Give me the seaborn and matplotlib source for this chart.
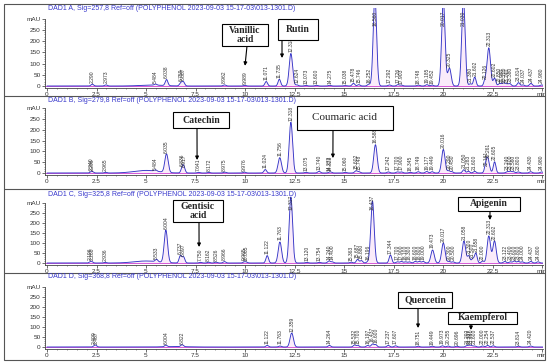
import numpy as np
import matplotlib
matplotlib.use('Agg')
import matplotlib.pyplot as plt
import seaborn as sns
from matplotlib.patches import Rectangle
from matplotlib.lines import Line2D

sns.set_style('white')
plt.rcParams['font.family'] = ['Liberation Sans', 'DejaVu Sans']

# ---------------- data ----------------
titles = [
    "DAD1 A, Sig=257,8 Ref=off (POLYPHENOL 2023-09-03 15-17-03\\013-1301.D)",
    "DAD1 B, Sig=279,8 Ref=off (POLYPHENOL 2023-09-03 15-17-03\\013-1301.D)",
    "DAD1 C, Sig=325,8 Ref=off (POLYPHENOL 2023-09-03 15-17-03\\013-1301.D)",
    "DAD1 D, Sig=368,8 Ref=off (POLYPHENOL 2023-09-03 15-17-03\\013-1301.D)",
]

rt_A = [2.290, 2.973, 5.484, 6.038, 6.759, 6.887, 8.962, 9.989, 11.071, 11.735,
        12.318, 12.624, 13.073, 13.600, 14.275, 15.038, 15.478, 15.746, 16.252,
        16.560, 17.292, 17.726, 17.903, 18.748, 19.185, 19.452, 20.017, 20.325,
        21.030, 21.380, 21.602, 22.126, 22.313, 22.602, 22.850, 22.980, 23.100,
        23.240, 23.380, 23.814, 24.037, 24.437, 24.980]
h_A = [8, 5, 5, 27, 14, 18, 5, 3, 20, 30,
       145, 5, 3, 3, 3, 2, 12, 6, 8,
       400, 5, 6, 4, 4, 6, 4, 380, 80,
       390, 10, 40, 25, 170, 35, 10, 8, 12,
       8, 10, 15, 5, 12, 5]

rt_B = [2.240, 2.296, 2.965, 5.484, 6.035, 6.836, 6.917, 7.641, 8.172, 8.975,
        9.976, 11.024, 11.756, 12.318, 13.075, 13.740, 14.272, 14.323, 15.060,
        15.602, 15.748, 16.588, 17.242, 17.700, 17.900, 18.345, 18.749, 19.177,
        19.449, 20.016, 20.290, 20.450, 21.050, 21.283, 21.600, 22.161, 22.261,
        22.605, 23.240, 23.400, 23.560, 23.800, 24.430, 24.980]
h_B = [5, 4, 3, 6, 86, 25, 22, 3, 3, 4,
       4, 16, 71, 235, 3, 8, 3, 3, 3,
       10, 6, 131, 5, 5, 5, 3, 6, 7,
       6, 109, 10, 6, 15, 8, 8, 25, 64,
       52, 6, 8, 6, 5, 6, 5]

rt_C = [2.196, 2.260, 2.936, 5.533, 6.004, 6.737, 6.897, 7.750, 8.162, 8.526,
        8.966, 9.965, 10.065, 11.122, 11.763, 12.317, 13.120, 13.754, 14.240,
        14.400, 15.363, 15.687, 15.880, 16.196, 16.437, 17.344, 17.700, 17.900,
        18.100, 18.300, 18.600, 18.800, 19.000, 19.473, 20.017, 20.300, 20.500,
        21.058, 21.300, 21.500, 21.658, 22.000, 22.313, 22.602, 23.122, 23.400,
        23.600, 23.800, 24.000, 24.437, 24.800]
h_C = [5, 5, 3, 12, 162, 37, 30, 3, 4, 4,
       7, 5, 4, 37, 105, 330, 3, 3, 10,
       6, 4, 18, 12, 5, 310, 40, 6, 8,
       6, 6, 8, 8, 8, 65, 100, 8, 6,
       110, 35, 20, 50, 10, 135, 110, 8, 6,
       10, 8, 6, 8, 6]

rt_D = [2.409, 2.467, 6.004, 6.822, 11.122, 11.763, 12.359, 14.264, 15.532,
        15.700, 16.197, 16.437, 16.600, 17.237, 17.607, 18.751, 19.449, 19.973,
        20.255, 20.696, 21.202, 21.327, 21.440, 21.600, 22.000, 22.254, 22.537,
        23.814, 24.420]
h_D = [6, 5, 8, 10, 8, 5, 70, 8, 10,
       8, 8, 15, 12, 8, 6, 4, 4, 6,
       5, 4, 6, 7, 6, 5, 5, 8, 6,
       4, 5]

# broad baseline humps: (centre, height)
hump_A = [(5.3, 4)]
hump_B = [(5.0, 12)]
hump_C = [(5.0, 10)]
hump_D = [(6.5, 2)]

# compound annotations: name, retention time of arrow tip, mAU of arrow tip
ann_A = [("Vanillic\nacid", 10.0, 90), ("Rutin", 11.87, 125)]
ann_B = [("Catechin", 7.58, 60), ("Coumaric acid", 14.44, 69)]
ann_C = [("Gentisic\nacid", 7.68, 80), ("Apigenin", 22.37, 215)]
ann_D = [("Quercetin", 18.74, 95), ("Kaempferol", 21.41, 85)]

x_ticks = [0, 2.5, 5, 7.5, 10, 12.5, 15, 17.5, 20, 22.5, 25]
x_ticklabels = ['0', '2.5', '5', '7.5', '10', '12.5', '15', '17.5', '20', '22.5', 'min']
y_ticks = [0, 50, 100, 150, 200, 250, 300]
y_ticklabels = ['0', '50', '100', '150', '200', '250', 'mAU']

# ---------------- layout (pixels) ----------------
W, H = 550, 362
def fx(x): return x / W
def fy(y): return 1 - y / H

layout = [
    dict(zero=86, p250=30, bottom=88, top=8, title_y=9,
         boxes=[(222, 24, 268, 46, 247, True), (278, 19, 318, 40, 282, True)]),
    dict(zero=173, p250=119, bottom=175, top=99, title_y=100,
         boxes=[(173, 112, 229, 128, 197, True), (297, 106, 393, 130, 333, False)]),
    dict(zero=263, p250=213, bottom=265, top=192, title_y=194,
         boxes=[(173, 200, 223, 222, 199, True), (458, 197, 520, 211, 490, True)]),
    dict(zero=347, p250=297, bottom=349, top=276, title_y=277,
         boxes=[(398, 292, 452, 308, 418, True), (448, 312, 517, 324, 471, True)]),
]

data = [(rt_A, h_A, hump_A, ann_A), (rt_B, h_B, hump_B, ann_B),
        (rt_C, h_C, hump_C, ann_C), (rt_D, h_D, hump_D, ann_D)]

fig = plt.figure(figsize=(5.5, 3.62), dpi=100)

SIG_COL = '#3434c6'
BASE_COL = '#d040d0'
FILL_COL = '#f0c0f0'
t = np.linspace(0.0, 25.05, 3000)
x0, x1 = (45 - 47) / 19.8, (543 - 47) / 19.8

for (rt, hh, humps, anns), lay, title in zip(data, layout, titles):
    ppm = (lay['zero'] - lay['p250']) / 250.0
    ylo = -(lay['bottom'] - lay['zero']) / ppm
    yhi = (lay['zero'] - lay['top']) / ppm
    ax = fig.add_axes([fx(45), fy(lay['bottom']), fx(543) - fx(45),
                       (lay['bottom'] - lay['top']) / H])
    sig = np.zeros_like(t)
    for c, a in zip(rt, hh):
        s = 0.085 if a > 60 else 0.065
        sig += a * np.exp(-0.5 * ((t - c) / s) ** 2)
    for c, a in humps:
        sig += a * np.exp(-0.5 * ((t - c) / 0.6) ** 2)
    ax.fill_between(t, 0, sig, color=FILL_COL, alpha=0.3, lw=0)
    ax.axhline(0, color=BASE_COL, lw=0.6, zorder=2)
    sns.lineplot(x=t, y=sig, ax=ax, color=SIG_COL, lw=0.65, estimator=None,
                 sort=False, zorder=3)
    ax.set_xlim(x0, x1)
    ax.set_ylim(ylo, yhi)
    ax.set_xlabel('')
    ax.set_ylabel('')
    for sp in ['top', 'right']:
        ax.spines[sp].set_visible(False)
    for sp in ['left', 'bottom']:
        ax.spines[sp].set_linewidth(0.6)
        ax.spines[sp].set_color('#444444')
    ax.spines['left'].set_bounds(ylo, 300)
    ax.set_xticks(x_ticks)
    ax.set_xticklabels(x_ticklabels)
    ax.set_xticks(np.arange(0, 25.01, 0.5), minor=True)
    ax.set_yticks(y_ticks)
    ax.set_yticklabels(y_ticklabels)
    ax.set_yticks(np.arange(0, 301, 10), minor=True)
    ax.tick_params(which='major', length=2, width=0.5, labelsize=4.6, pad=1,
                   colors='#333333', direction='out', left=True, bottom=True)
    ax.tick_params(which='minor', length=1, width=0.4, colors='#444444',
                   direction='out', left=True, bottom=True)
    ax.patch.set_alpha(0)
    # peak labels
    cap = yhi - 20 / ppm
    for c, a in zip(rt, hh):
        yl = min(a, cap) + 1.5 / ppm
        ax.text(c, yl, f"{c:.3f}", rotation=90, fontsize=3.6, color='#333333',
                ha='center', va='bottom', clip_on=False, zorder=4)
    # title
    fig.text(fx(48), fy(lay['title_y']), title, fontsize=5.0, color='#3838cc',
             ha='left', va='center')
    # annotations
    for (name, tt, yy), (bx0, by0, bx1, by1, axx, bold) in zip(anns, lay['boxes']):
        fig.add_artist(Rectangle((fx(bx0), fy(by1)), fx(bx1) - fx(bx0),
                                 (by1 - by0) / H, transform=fig.transFigure,
                                 fc='white', ec='black', lw=0.8, zorder=10))
        fig.text(fx((bx0 + bx1) / 2), fy((by0 + by1) / 2), name,
                 family='Liberation Serif', fontsize=7.0 if bold else 8.0,
                 fontweight='bold' if bold else 'normal', ha='center',
                 va='center', linespacing=0.95, zorder=11)
        ax.annotate('', xy=(tt, yy), xycoords='data',
                    xytext=(fx(axx), fy(by1)), textcoords='figure fraction',
                    arrowprops=dict(arrowstyle='-|>', lw=0.8, color='black',
                                    mutation_scale=5, shrinkA=0, shrinkB=0),
                    annotation_clip=False, zorder=9)

# panel frame
fig.add_artist(Rectangle((fx(4), fy(360)), fx(545) - fx(4), (360 - 4) / H,
                         transform=fig.transFigure, fill=False, ec='#555555', lw=0.8))
for ysep in [96, 189, 273]:
    fig.add_artist(Line2D([fx(4), fx(545)], [fy(ysep), fy(ysep)],
                          transform=fig.transFigure, color='#555555', lw=0.8))

fig.savefig('out.png', dpi=100)
